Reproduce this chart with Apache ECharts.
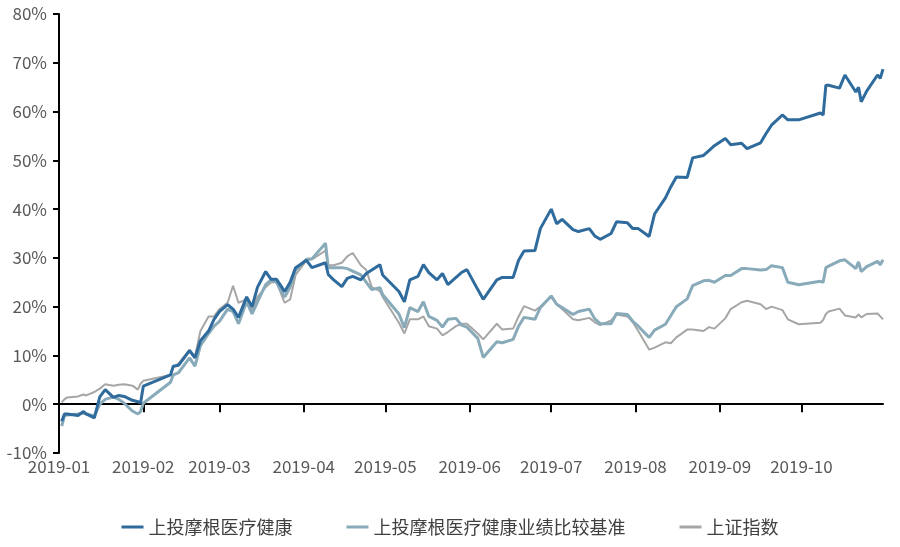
<!DOCTYPE html>
<html>
<head>
<meta charset="utf-8">
<script src="https://cdn.jsdelivr.net/npm/echarts@6/dist/echarts.min.js"></script>
<style>
html,body{margin:0;padding:0;background:#fff;}
#main{width:900px;height:547px;}
</style>
</head>
<body>
<div id="main"></div>
<script>
// trading dates (2019-MM-DD) sampled from the chart
const dates = [
  '01-02','01-03','01-04','01-08','01-10','01-11','01-14','01-16','01-18','01-21','01-23','01-25','01-28','01-30','01-31',
  '02-01','02-11','02-12','02-14','02-18','02-20','02-22','02-25','02-27',
  '03-01','03-04','03-06','03-08','03-11','03-13','03-15','03-18','03-20','03-22','03-25','03-27','03-29',
  '04-02','04-04','04-09','04-10','04-12','04-15','04-17','04-19','04-22','04-24','04-26','04-29','04-30',
  '05-06','05-08','05-10','05-13','05-15','05-17','05-20','05-22','05-24','05-27','05-29','05-31',
  '06-04','06-06','06-11','06-13','06-17','06-19','06-21','06-25','06-27',
  '07-01','07-03','07-05','07-09','07-11','07-15','07-17','07-19','07-23','07-25','07-29','07-31',
  '08-02','08-06','08-08','08-12','08-14','08-16','08-20','08-22','08-26','08-28','08-30',
  '09-03','09-05','09-09','09-11','09-16','09-18','09-20','09-24','09-26','09-30',
  '10-08','10-09','10-10','10-11','10-15','10-17','10-21','10-22','10-23','10-25','10-29','10-30','10-31'
];
// 上投摩根医疗健康 (%)
const fundValues = [
  -3.5,-2.0,-2.0,-2.3,-1.5,-2.0,-2.8,1.5,3.0,1.4,1.8,1.6,0.8,0.5,0.3,
  3.7,6.0,7.8,8.0,11.0,9.5,13.0,15.0,17.4,
  19.0,20.4,19.5,17.8,22.0,20.0,24.0,27.2,25.6,25.6,23.1,25.0,28.0,
  29.5,28.0,29.0,26.6,25.5,24.1,25.8,26.2,25.5,26.8,27.5,28.6,26.5,
  23.1,21.0,25.5,26.2,28.6,27.0,25.5,26.8,24.5,26.0,27.0,27.6,
  23.5,21.5,25.5,26.0,26.0,29.5,31.4,31.5,36.0,
  40.0,37.0,37.9,35.8,35.4,36.0,34.5,33.8,35.0,37.4,37.2,36.0,
  36.0,34.4,39.0,42.3,44.6,46.6,46.5,50.5,51.0,52.0,53.0,
  54.5,53.2,53.5,52.4,53.6,55.5,57.2,59.3,58.3,58.3,
  59.7,59.3,65.4,65.4,64.8,67.5,64.0,65.0,62.0,64.2,67.5,66.8,68.7
];
// 上投摩根医疗健康业绩比较基准 (%)
const benchValues = [
  -4.5,-2.4,-2.2,-2.0,-1.8,-2.0,-2.4,0.0,1.0,1.5,1.0,0.2,-1.4,-2.0,-1.5,
  0.2,4.5,6.0,6.5,9.5,7.8,12.0,14.5,16.0,
  17.0,19.5,19.0,16.5,21.0,18.5,21.0,24.5,25.5,25.0,22.0,24.0,27.5,
  29.7,29.8,33.0,28.0,28.0,28.0,27.8,27.3,26.5,25.0,23.5,23.9,22.5,
  18.5,15.7,19.8,19.0,21.0,18.0,17.2,15.8,17.4,17.6,16.2,15.8,
  13.5,9.6,12.8,12.6,13.3,16.0,17.8,17.4,19.8,
  22.2,20.5,19.8,18.4,19.0,19.5,17.5,16.5,16.5,18.6,18.4,17.0,
  16.0,13.7,15.2,16.4,18.2,20.0,21.6,24.3,25.3,25.4,25.0,
  26.4,26.4,27.8,27.8,27.5,27.6,28.4,28.0,25.0,24.5,
  25.2,25.0,28.0,28.3,29.4,29.6,27.8,29.2,27.2,28.2,29.3,28.6,29.6
];
// 上证指数 (%)
const shValues = [
  0.4,1.0,1.4,1.6,2.0,1.8,2.5,3.2,4.1,3.8,4.0,4.1,3.8,3.0,4.2,
  4.8,6.0,7.5,8.4,11.2,9.8,15.0,18.0,18.0,
  19.5,20.8,24.3,20.8,21.5,19.4,22.0,24.0,25.0,25.0,20.8,21.5,26.5,
  29.5,29.7,31.5,28.5,28.5,29.0,30.3,31.0,28.5,27.5,24.0,23.2,22.0,
  16.7,14.5,17.4,17.4,18.0,16.0,15.5,14.1,14.8,16.0,16.5,16.5,
  14.5,13.3,16.5,15.3,15.5,18.0,20.1,19.2,20.0,
  22.0,20.5,19.5,17.4,17.2,17.7,16.8,16.2,17.2,18.4,18.0,16.8,
  15.0,11.2,11.6,12.7,12.5,13.7,15.3,15.3,15.0,15.8,15.5,
  17.6,19.5,20.9,21.2,20.5,19.5,20.0,19.3,17.4,16.4,
  16.7,17.3,18.5,19.0,19.6,18.2,17.8,18.4,17.8,18.5,18.6,18.0,17.4
];
const seriesNames = ['上投摩根医疗健康', '上投摩根医疗健康业绩比较基准', '上证指数'];
const yTicks = { min: -10, max: 80, step: 10 };
const xRange = ['2019-01-01', '2019-10-31'];

const pair = vals => dates.map((d, i) => ['2019-' + d, vals[i]]);
const fontCJK = '"Noto Sans CJK SC", "Noto Sans", sans-serif';

const W = 900, H = 547;
const grid = { left: 59, right: 17, top: 14, bottom: 94 };
// distance of the zero line above the plot bottom, so the x axis sits on zero
const plotH = H - grid.top - grid.bottom;
const zeroLift = plotH * (0 - yTicks.min) / (yTicks.max - yTicks.min);

const chart = echarts.init(document.getElementById('main'), null, { renderer: 'canvas' });
const monthLabel = v => {
  const d = new Date(v);
  if (d.getDate() !== 1) return '';
  const m = d.getMonth() + 1;
  return d.getFullYear() + '-' + (m < 10 ? '0' + m : m);
};
chart.setOption({
  animation: false,
  backgroundColor: '#fff',
  grid: Object.assign({ containLabel: false }, grid),
  legend: {
    data: seriesNames,
    left: 'center',
    top: 513,
    itemWidth: 22,
    itemHeight: 3,
    itemGap: 54,
    icon: 'rect',
    textStyle: { fontSize: 18, color: '#404040', fontFamily: fontCJK }
  },
  xAxis: {
    type: 'time',
    position: 'bottom',
    offset: -zeroLift,
    min: xRange[0], max: xRange[1],
    minInterval: 28 * 86400000, maxInterval: 31 * 86400000,
    splitNumber: 10,
    axisLine: { show: true, onZero: false, lineStyle: { color: '#000', width: 2 } },
    axisTick: { show: true, interval: 0, length: 8, lineStyle: { color: '#000', width: 2 } },
    splitLine: { show: false },
    axisLabel: {
      show: true, margin: zeroLift + 5, fontSize: 17, color: '#595959', fontFamily: fontCJK,
      hideOverlap: false, showMinLabel: true, showMaxLabel: false,
      formatter: monthLabel
    }
  },
  yAxis: {
    type: 'value',
    min: yTicks.min, max: yTicks.max, interval: yTicks.step,
    axisLine: { show: true, onZero: false, lineStyle: { color: '#000', width: 2 } },
    axisTick: { show: true, length: 6, lineStyle: { color: '#000', width: 2 } },
    splitLine: { show: false },
    axisLabel: { margin: 12, fontSize: 17, color: '#595959', fontFamily: fontCJK, formatter: '{value}%' }
  },
  series: [
    { name: seriesNames[0], type: 'line', data: pair(fundValues), showSymbol: false, z: 4,
      itemStyle: { color: '#2F6B9C' }, lineStyle: { color: '#2F6B9C', width: 3 } },
    { name: seriesNames[1], type: 'line', data: pair(benchValues), showSymbol: false, z: 3,
      itemStyle: { color: '#88AAB9' }, lineStyle: { color: '#88AAB9', width: 3 } },
    { name: seriesNames[2], type: 'line', data: pair(shValues), showSymbol: false, z: 2,
      itemStyle: { color: '#A6A6A6' }, lineStyle: { color: '#A6A6A6', width: 2 } }
  ]
});
</script>
</body>
</html>
